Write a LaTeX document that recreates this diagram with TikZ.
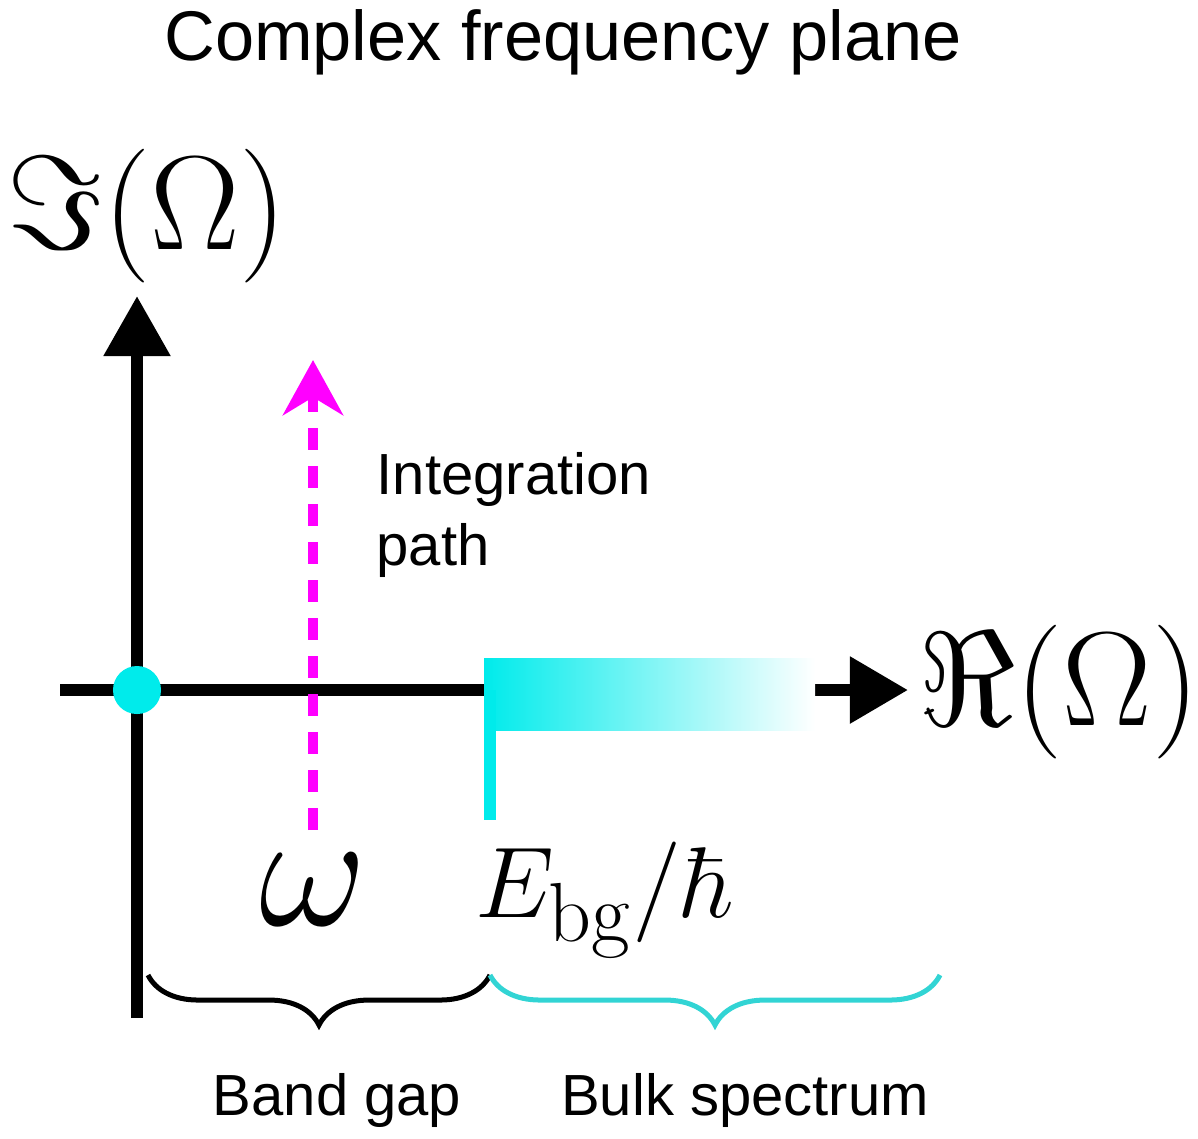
\documentclass[tikz,border=0pt]{standalone}
\usepackage[no-math]{fontspec}
\setmainfont{Liberation Sans}
\usetikzlibrary{arrows.meta,decorations.pathreplacing}
\definecolor{specCyan}{RGB}{0,235,235}
\definecolor{braceCyan}{RGB}{50,212,212}
\definecolor{pathMagenta}{RGB}{255,0,255}
\newcommand{\hugemath}[2]{\scalebox{#1}{\Huge$#2$}}
\begin{document}
\begin{tikzpicture}[x=0.01cm,y=-0.01cm,
        axis/.style={line width=0.12cm, black},
        label/.style={font=\fontsize{16.5}{20}\selectfont},
        bigmath/.style={inner sep=0pt},
        gapbrace/.style={decorate, decoration={brace, amplitude=0.5cm, mirror}, line width=0.05cm}
    ]
        \useasboundingbox (0,0) rectangle (1198,1138);

        % Title
        \node[font=\fontsize{20}{24}\selectfont] (title) at (563,42) {Complex frequency plane};

        % Axes
        \coordinate (yfoot) at (137,1018);
        \coordinate (ytip) at (137,296);
        \coordinate (xfoot) at (60,690);
        \coordinate (gapend) at (484,690);
        \coordinate (specend) at (815,690);
        \coordinate (xtip) at (908,690);
        \draw[axis, -{Triangle[length=0.6cm, width=0.64cm]}] (yfoot) -- (ytip);
        \draw[axis] (xfoot) -- (gapend);
        \draw[axis, -{Triangle[length=0.58cm, width=0.64cm]}] (specend) -- (xtip);
        \node[bigmath] (imlab) at (147,216) {\hugemath{1.53}{\Im(\Omega)}};
        \node[bigmath, anchor=west] (relab) at (918,692) {\hugemath{1.53}{\Re(\Omega)}};

        % Bulk spectrum
        \shade[left color=specCyan, right color=white] (484,658) rectangle (815,730);
        \coordinate (edgetop) at (490,690);
        \coordinate (edgefoot) at (490,820);
        \draw[line width=0.12cm, specCyan] (edgetop) -- (edgefoot);
        \fill[specCyan] (137,690) circle (0.24cm);

        % Integration path
        \coordinate (pathfoot) at (313,830);
        \coordinate (pathtip) at (313,360);
        \draw[line width=0.1cm, pathMagenta, dash pattern=on 0.22cm off 0.16cm,
              -{Stealth[length=0.55cm, width=0.6cm]}] (pathfoot) -- (pathtip);
        \node[label, anchor=north west, align=left, inner sep=0pt] (pathlab) at (376,452) {Integration\\path};

        % Frequencies
        \node (omega) at (313,890) {\hugemath{1.9}{\omega}};
        \node (ebg) at (605,900) {\hugemath{1.15}{E_{\mathrm{bg}}/\hbar}};

        % Braces
        \coordinate (b1) at (148,975);
        \coordinate (b2) at (490,975);
        \coordinate (b3) at (940,975);
        \draw[gapbrace] (b1) -- (b2);
        \draw[gapbrace, braceCyan] (b2) -- (b3);
        \node[label] (gaplab) at (337,1100) {Band gap};
        \node[label] (bulklab) at (745,1100) {Bulk spectrum};
    \end{tikzpicture}
\end{document}
